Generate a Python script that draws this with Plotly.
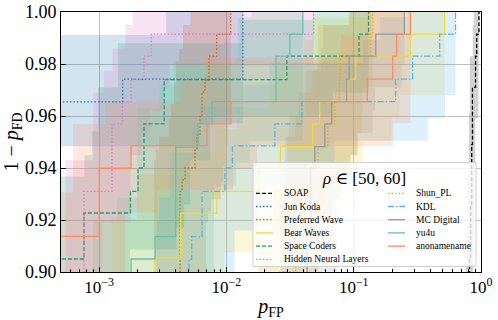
import numpy as np
import plotly.graph_objects as go

teams = ["SOAP", "Jun Koda", "Preferred Wave", "Bear Waves", "Space Coders",
         "Hidden Neural Layers", "Shun_PL", "KDL", "MC Digital", "yu4u", "anonamename"]

# ROC points (fpr, 1 - p_FD), first entry is where the curve enters
soap_fpr = [0.80, 0.813, 0.83, 0.845, 0.857, 0.906, 0.925, 0.964]
soap_tpr = [0.89, 0.905, 0.925, 0.949, 0.971, 0.983, 0.9915, 1.0]

koda_fpr = [1e-4, 1.53e-3, 0.01345]
koda_tpr = [0.9654, 0.9742, 1.0]

pw_fpr = [4.0e-3, 4.32e-3, 4.48e-3, 4.73e-3, 5.66e-3, 5.87e-3, 6.2e-3, 6.43e-3, 6.78e-3, 7.29e-3, 8.38e-3, 0.0108]
pw_tpr = [0.88, 0.931, 0.9354, 0.940, 0.9469, 0.9527, 0.9604, 0.9692, 0.9738, 0.983, 0.9915, 1.0]

bear_fpr = [2.6e-3, 2.75e-3, 4.36e-3, 8.41e-3, 0.018, 0.0266, 0.0476, 0.054, 0.0897, 0.1037, 0.279, 0.518]
bear_tpr = [0.88, 0.9054, 0.9226, 0.931, 0.940, 0.9482, 0.957, 0.9655, 0.9742, 0.983, 0.9915, 1.0]

space_fpr = [1e-4, 7.6e-4, 1.76e-3, 2.02e-3, 2.25e-3, 3.24e-3, 0.0298, 0.110, 0.131]
space_tpr = [0.905, 0.9227, 0.931, 0.940, 0.957, 0.974, 0.983, 0.9915, 1.0]

hnl_fpr = [7.0e-4, 7.6e-4, 1.26e-3, 1.52e-3, 1.78e-3, 2.25e-3, 2.56e-3, 0.0484]
hnl_tpr = [0.88, 0.931, 0.957, 0.9654, 0.974, 0.983, 0.9915, 1.0]

shun_fpr = [0.024, 0.0265, 0.035, 0.045, 0.0523, 0.0625, 0.071, 0.0775, 0.0785, 0.136, 0.141]
shun_tpr = [0.88, 0.90, 0.92, 0.94, 0.9482, 0.957, 0.9655, 0.9742, 0.983, 0.9915, 1.0]

kdl_fpr = [4.8e-3, 5.08e-3, 5.33e-3, 6.43e-3, 9.73e-3, 0.01114, 0.024, 0.0391, 0.2133, 0.290, 0.473, 0.631]
kdl_tpr = [0.88, 0.9049, 0.9136, 0.931, 0.940, 0.9485, 0.957, 0.9655, 0.9742, 0.983, 0.9915, 1.0]

mc_fpr = [0.040, 0.043, 0.046, 0.0494, 0.0593, 0.0672, 0.088, 0.092, 0.149, 0.25]
mc_tpr = [0.88, 0.91, 0.94, 0.9482, 0.957, 0.9655, 0.9742, 0.983, 0.9915, 1.0]

yu_fpr = [1.7e-3, 1.78e-3, 2.75e-3, 3.99e-3, 5.96e-3, 7.7e-3, 0.0245, 0.0315, 0.0398]
yu_tpr = [0.88, 0.905, 0.9136, 0.948, 0.957, 0.9655, 0.983, 0.9915, 1.0]

anon_fpr = [1e-4, 1.0e-3, 1.78e-3, 7.03e-3, 0.01084, 0.1277, 0.2024, 0.217, 0.279]
anon_tpr = [0.9137, 0.9399, 0.9486, 0.957, 0.9655, 0.9742, 0.983, 0.9915, 1.0]

# confidence boxes: half height in tpr, multiplicative half width in fpr
band_dy = [0.012, 0.017, 0.012, 0.015, 0.014, 0.012, 0.012, 0.015, 0.012, 0.015, 0.017]
band_kx = [1.05, 4.0, 1.6, 2.2, 2.3, 1.4, 1.5, 1.8, 1.6, 2.0, 1.6]

colors = ["#000000", "#1f77b4", "#d95f02", "#f2d936", "#1b9e77", "#e377c2",
          "#e6ab02", "#56b4e9", "#999999", "#66c2a5", "#fc8d62"]
dashes = ["4px,2px", "1.5px,2px", "1.5px,2px", "solid", "4px,2px", "1.5px,2px",
          "1.5px,2px", "6px,2px,1.5px,2px", "solid", "solid", "solid"]

curves = [(soap_fpr, soap_tpr), (koda_fpr, koda_tpr), (pw_fpr, pw_tpr), (bear_fpr, bear_tpr),
          (space_fpr, space_tpr), (hnl_fpr, hnl_tpr), (shun_fpr, shun_tpr), (kdl_fpr, kdl_tpr),
          (mc_fpr, mc_tpr), (yu_fpr, yu_tpr), (anon_fpr, anon_tpr)]


def stairs(xs, ys):
    sx, sy = [], []
    for i in range(len(xs)):
        sx.append(xs[i])
        sy.append(ys[i])
        if i + 1 < len(xs):
            sx.append(xs[i + 1])
            sy.append(ys[i])
    return sx, sy


def band(fpr, tpr, dy, kx):
    fpr = np.array(fpr)
    tpr = np.array(tpr)
    ux, uy = stairs(fpr / kx, tpr + dy)
    ux.append(fpr[-1])
    uy.append(uy[-1])
    lx, ly = stairs(np.minimum(fpr * kx, fpr[-1]), tpr - dy)
    lx = [fpr[0] / kx] + lx
    ly = [tpr[0] - dy] + ly
    return ux + lx[::-1], uy + ly[::-1]


def rgba(hexcol, a):
    h = hexcol.lstrip("#")
    return "rgba(%d,%d,%d,%.2f)" % (int(h[0:2], 16), int(h[2:4], 16), int(h[4:6], 16), a)


fig = go.Figure()

for i, (fpr, tpr) in enumerate(curves):
    bx, by = band(fpr, tpr, band_dy[i], band_kx[i])
    col = "#808080" if i == 0 else colors[i]
    fig.add_trace(go.Scatter(x=bx, y=by, mode="lines", fill="toself",
                             fillcolor=rgba(col, 0.2 if i else 0.35), line=dict(width=0),
                             hoverinfo="skip", showlegend=False))

for i, (fpr, tpr) in enumerate(curves):
    fig.add_trace(go.Scatter(x=fpr, y=tpr, mode="lines", name=teams[i],
                             line=dict(color=colors[i], width=1.3, dash=dashes[i], shape="hv"),
                             showlegend=False))

font = "Liberation Serif, DejaVu Serif, serif"

W, H = 498, 320
L, R, T, B = 61, 17, 12, 48


def px2x(px):
    return (px - L) / (W - L - R)


def py2y(py):
    return (H - B - py) / (H - B - T)


# legend drawn by hand, matplotlib style (two columns, tight rows)
shapes = [dict(type="rect", xref="paper", yref="paper", x0=px2x(253), x1=px2x(476),
               y0=py2y(266.5), y1=py2y(162.5), fillcolor="rgba(255,255,255,0.8)",
               line=dict(color="#d0d0d0", width=1), layer="above")]
annotations = [dict(xref="paper", yref="paper", x=px2x(364), y=py2y(178), showarrow=False,
                    text="<i>ρ</i> ∈ [50, 60]", font=dict(family=font, size=17, color="black"),
                    xanchor="center", yanchor="middle")]
for i, name in enumerate(teams):
    if i < 6:
        x0, row = 256, i
    else:
        x0, row = 388, i - 6
    yc = 193.3 + 13.2 * row
    shapes.append(dict(type="line", xref="paper", yref="paper", x0=px2x(x0), x1=px2x(x0 + 17),
                       y0=py2y(yc), y1=py2y(yc), layer="above",
                       line=dict(color=colors[i], width=1.3,
                                 dash=None if dashes[i] == "solid" else dashes[i])))
    annotations.append(dict(xref="paper", yref="paper", x=px2x(x0 + 26), y=py2y(yc), showarrow=False,
                            text=name, font=dict(family=font, size=9.5, color="black"),
                            xanchor="left", yanchor="middle"))

minor_vals = [m * 10.0 ** e for e in range(-4, 0) for m in range(2, 10)]

fig.update_layout(
    width=W, height=H,
    margin=dict(l=L, r=R, t=T, b=B),
    plot_bgcolor="white", paper_bgcolor="white",
    font=dict(family=font, color="black"),
    shapes=shapes, annotations=annotations,
    xaxis=dict(type="log", range=[-3.3, 0], tickvals=[1e-3, 1e-2, 1e-1, 1],
               ticktext=["10<sup>−3</sup>", "10<sup>−2</sup>", "10<sup>−1</sup>", "10<sup>0</sup>"],
               tickfont=dict(size=17), showline=True, linecolor="black", linewidth=1, mirror=True,
               ticks="inside", ticklen=5, tickcolor="black", automargin=False,
               ticklabeloverflow="allow",
               showgrid=True, gridcolor="rgba(176,176,176,0.8)", gridwidth=1,
               minor=dict(tickvals=minor_vals, ticks="inside", ticklen=3, tickcolor="black", showgrid=False),
               title=dict(text="<i>p</i><sub>FP</sub>", font=dict(size=20), standoff=9),
               zeroline=False),
    yaxis=dict(range=[0.90, 1.00], tickvals=[0.90, 0.92, 0.94, 0.96, 0.98, 1.00], tickformat=".2f",
               tickfont=dict(size=18), showline=True, linecolor="black", linewidth=1, mirror=True,
               ticks="inside", ticklen=5, tickcolor="black", automargin=False,
               ticklabeloverflow="allow",
               showgrid=True, gridcolor="rgba(176,176,176,0.8)", gridwidth=1,
               title=dict(text="1 − <i>p</i><sub>FD</sub>", font=dict(size=20), standoff=4),
               zeroline=False),
)

# drop the default 8px page margin so the figure sits at the window corner
fig.write_html("out.html", config={"displayModeBar": False},
               post_script="document.body.style.margin = '0';")
